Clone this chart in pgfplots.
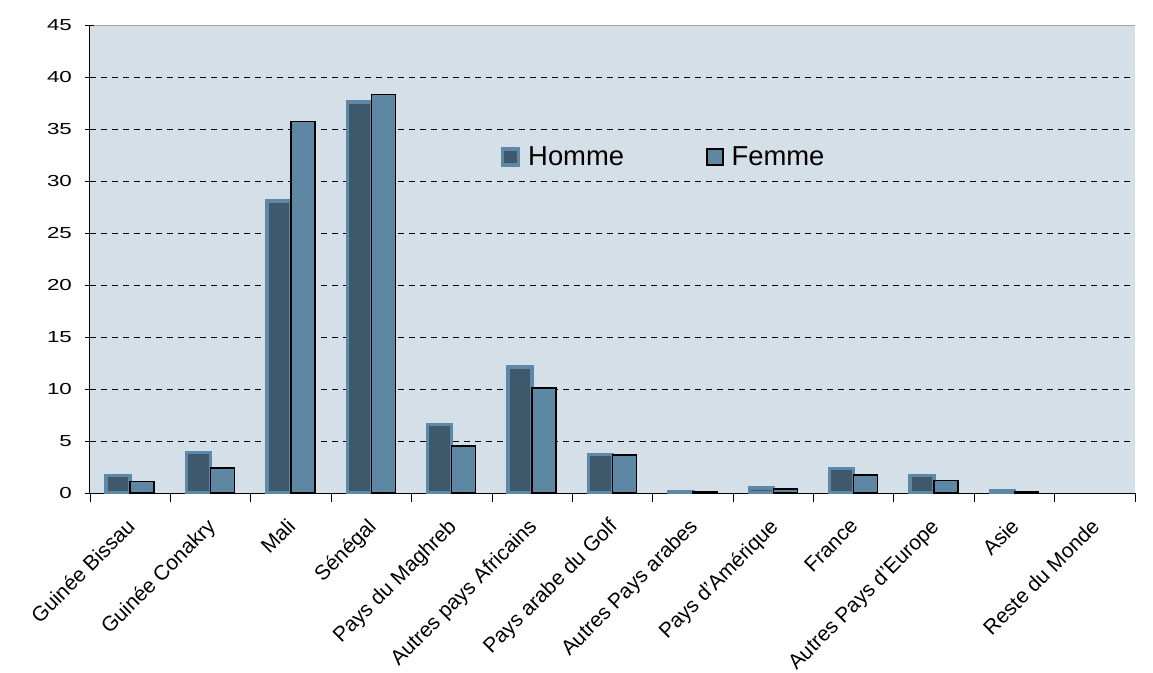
\documentclass[border=0pt]{standalone}
\usepackage{pgfplots}
\pgfplotsset{compat=1.18}
\usepackage{fontspec}
\setmainfont{Liberation Sans}
\definecolor{bgc}{HTML}{D5DFE8}
\definecolor{hfill}{HTML}{3E596C}
\definecolor{hdraw}{HTML}{5F88A6}
\definecolor{ffill}{HTML}{5E87A3}
\begin{document}
\begin{tikzpicture}
\useasboundingbox (-90bp,-180bp) rectangle (1063bp,493bp);
\begin{axis}[
  width=1045bp, height=468bp, scale only axis,
  ymin=0, ymax=45, ytick={0,5,...,40},
  extra y ticks={45}, extra y tick style={grid style={solid, gray!70, line width=0.8bp, dash pattern=}},
  xmin=-0.5, xmax=12.5,
  xtick={-0.5,0.5,...,12.5},
  x tick label as interval,
  xticklabels={Guinée Bissau,Guinée Conakry,Mali,Sénégal,Pays du Maghreb,Autres pays Africains,Pays arabe du Golf,Autres Pays arabes,Pays d'Amérique,France,Autres Pays d'Europe,Asie,Reste du Monde},
  x tick label style={yshift=-12bp, xshift=-5bp, rotate=45, anchor=north east, font=\fontsize{21}{23}\selectfont, inner sep=2bp},
  y tick label style={font=\fontsize{16}{18}\selectfont, xscale=1.4, xshift=-3bp},
  /pgf/number format/assume math mode=true,
  tick align=outside, major tick length=9bp,
  xtick style={black, line width=0.8bp},
  ytick style={black, line width=0.8bp, xshift=4bp},
  axis x line*=bottom, axis y line*=left,
  axis line style={black, line width=1bp},
  ymajorgrids, grid style={black, dashed, line width=0.8bp, dash pattern=on 6bp off 5bp},
  axis background/.style={fill=bgc},
  ybar=0pt, bar width=24bp,
  legend style={at={(0.39,0.718)}, anchor=west, draw=none, fill=none,
    font=\fontsize{27.5}{30}\selectfont, legend columns=2,
    /tikz/every even column/.append style={column sep=80bp},
    /tikz/every odd column/.append style={column sep=6bp}},
  legend image code/.code={\draw[#1] (0bp,-8bp) rectangle (16bp,8bp);},
]
\addplot[fill=hfill, draw=hdraw, line width=3.5bp] coordinates {
(0,1.7) (1,3.9) (2,28.1) (3,37.6) (4,6.6) (5,12.1) (6,3.7) (7,0.15) (8,0.5) (9,2.35) (10,1.7) (11,0.25)};
\addlegendentry{Homme}
\addplot[fill=ffill, draw=black, line width=1.5bp] coordinates {
(0,1.1) (1,2.4) (2,35.7) (3,38.3) (4,4.5) (5,10.1) (6,3.65) (7,0.12) (8,0.4) (9,1.75) (10,1.2) (11,0.1)};
\addlegendentry{Femme}
\end{axis}
\end{tikzpicture}
\end{document}
